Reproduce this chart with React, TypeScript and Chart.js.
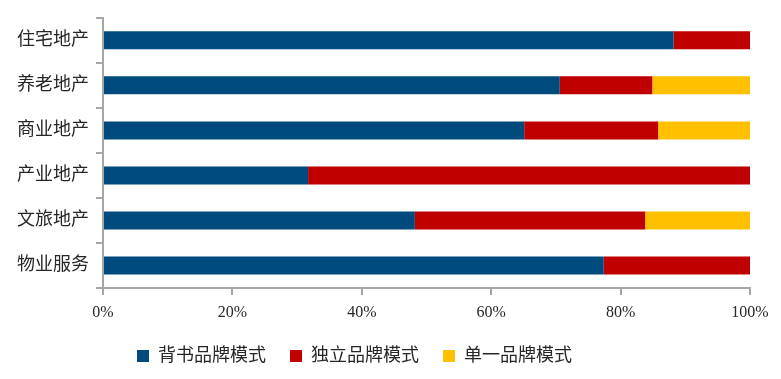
import React, { useEffect, useRef } from "react";
import { Chart, registerables } from "chart.js";

Chart.register(...registerables);

const categories = ["住宅地产", "养老地产", "商业地产", "产业地产", "文旅地产", "物业服务"];
const endorsedBrand = [88.2, 70.6, 65.1, 31.7, 48.2, 77.4];
const independentBrand = [11.8, 14.3, 20.7, 68.3, 35.6, 22.6];
const singleBrand = [0, 15.1, 14.2, 0, 16.2, 0];
const seriesNames = ["背书品牌模式", "独立品牌模式", "单一品牌模式"];
const xTicks = [0, 20, 40, 60, 80, 100];

const AXIS_GRAY = "#a6a6a6";
const TEXT_COLOR = "#262626";
const CJK_FONT = "'Liberation Serif', 'Noto Sans CJK SC', serif";

const legendShift = {
  id: "legendShift",
  beforeLayout(chart: any) {
    const lg = chart.legend;
    if (lg && !lg._patchedFit) {
      const orig = lg.fit.bind(lg);
      lg.fit = function () {
        orig();
        this.height = 54;
      };
      lg._patchedFit = true;
    }
  },
  afterLayout(chart: any) {
    const lg = chart.legend;
    if (!lg) return;
    const w = lg.width;
    const h = lg.height;
    lg.left = 113;
    lg.right = 113 + w;
    lg.top = 323;
    lg.bottom = 323 + h;
  },
};

export default function App() {
  const ref = useRef<HTMLCanvasElement | null>(null);
  useEffect(() => {
    if (!ref.current) return;
    const chart = new Chart(ref.current, {
      type: "bar",
      data: {
        labels: categories,
        datasets: [
          { label: seriesNames[0], data: endorsedBrand, backgroundColor: "#004b7d" },
          { label: seriesNames[1], data: independentBrand, backgroundColor: "#c00000" },
          { label: seriesNames[2], data: singleBrand, backgroundColor: "#ffc000" },
        ],
      },
      plugins: [legendShift],
      options: {
        indexAxis: "y",
        animation: false,
        responsive: false,
        maintainAspectRatio: false,
        layout: { padding: { top: 14, right: 31, left: 0, bottom: 0 } },
        datasets: { bar: { categoryPercentage: 1, barPercentage: 0.4 } },
        scales: {
          x: {
            stacked: true,
            min: 0,
            max: 100,
            afterBuildTicks: (scale: any) => {
              scale.ticks = xTicks.map((v) => ({ value: v }));
            },
            afterFit: (scale: any) => {
              scale.height = 37;
            },
            ticks: {
              callback: (v: any) => v + "%",
              color: TEXT_COLOR,
              font: { family: "'Liberation Serif', serif", size: 16 },
              padding: 8,
              maxRotation: 0,
            },
            grid: {
              drawOnChartArea: false,
              drawTicks: true,
              tickLength: 7,
              color: AXIS_GRAY,
              lineWidth: 2,
            },
            border: { display: true, color: AXIS_GRAY, width: 2 },
          },
          y: {
            stacked: true,
            afterFit: (scale: any) => {
              scale.width = 103;
            },
            ticks: {
              color: TEXT_COLOR,
              font: { family: CJK_FONT, size: 18 },
              padding: 7,
            },
            grid: {
              offset: true,
              drawOnChartArea: false,
              drawTicks: true,
              tickLength: 7,
              color: AXIS_GRAY,
              lineWidth: 2,
            },
            border: { display: true, color: AXIS_GRAY, width: 2 },
          },
        },
        plugins: {
          legend: {
            position: "bottom",
            align: "start",
            labels: {
              boxWidth: 12,
              boxHeight: 12,
              padding: 24,
              color: TEXT_COLOR,
              font: { family: CJK_FONT, size: 18 },
            },
          },
          tooltip: { enabled: false },
        },
      },
    });
    return () => chart.destroy();
  }, []);
  return (
    <div style={{ position: "absolute", left: 0, top: 0, width: 781, height: 379, background: "#fff" }}>
      <canvas ref={ref} width={781} height={379} style={{ width: 781, height: 379, display: "block" }} />
    </div>
  );
}
